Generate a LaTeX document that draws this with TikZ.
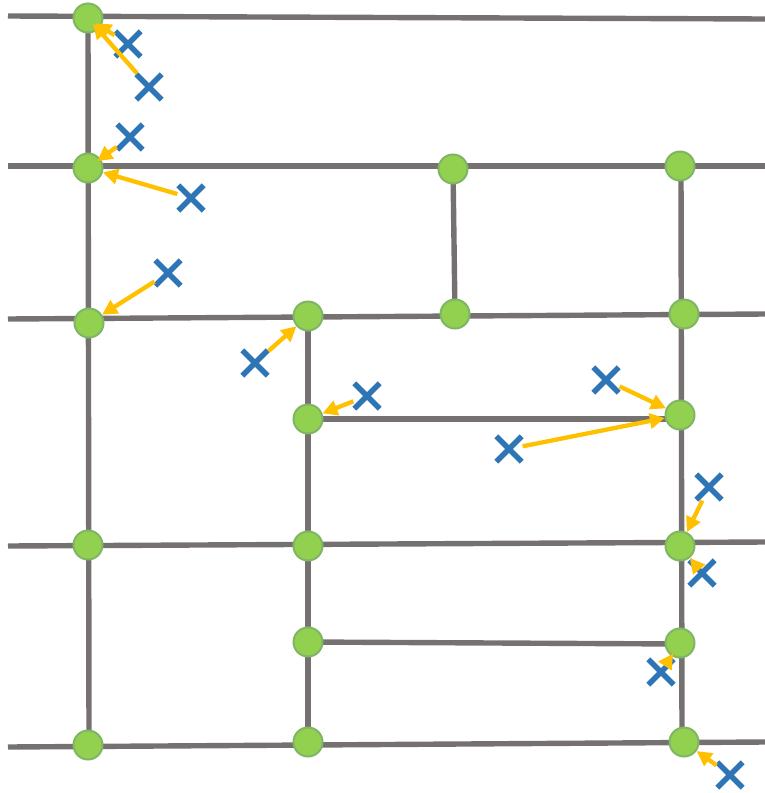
\documentclass[tikz,border=0pt]{standalone}
\usetikzlibrary{shapes.misc,arrows.meta}
\definecolor{gridgray}{HTML}{767171}
\definecolor{nodegreen}{HTML}{92D050}
\definecolor{nodeedge}{HTML}{7FB565}
\definecolor{crossblue}{HTML}{2E75B6}
\definecolor{arrowyellow}{HTML}{FFC000}
\tikzset{
  road/.style={draw=gridgray,line width=5.4pt},
  junction/.style={circle,fill=nodegreen,draw=nodeedge,line width=2pt,minimum size=29pt,inner sep=0pt},
  sample/.style={cross out,draw=crossblue,line width=5.4pt,minimum size=20pt,inner sep=0pt},
  snap/.style={draw=arrowyellow,line width=4.3pt,-{Triangle[length=15pt,width=15pt]},shorten <=1pt,shorten >=0pt}
}
\begin{document}
\begin{tikzpicture}[x=1pt,y=-1pt]
\useasboundingbox (0,0) rectangle (765,793);
% junction positions
\coordinate (p1) at (88,18);
\coordinate (p2) at (88,168);
\coordinate (p3) at (89,323);
\coordinate (p4) at (88,545);
\coordinate (p5) at (88,745);
\coordinate (p6) at (453,169);
\coordinate (p7) at (680,166);
\coordinate (p8) at (308,316);
\coordinate (p9) at (455,314);
\coordinate (p10) at (684,314);
\coordinate (p11) at (308,419);
\coordinate (p12) at (680,415);
\coordinate (p13) at (308,546);
\coordinate (p14) at (680,546);
\coordinate (p15) at (308,642);
\coordinate (p16) at (680,643);
\coordinate (p17) at (308,742);
\coordinate (p18) at (684,742);
% road ends
\coordinate (l1) at (8,16);   \coordinate (r1) at (765,19);
\coordinate (l2) at (8,166);  \coordinate (r2) at (765,166);
\coordinate (l3) at (8,319);  \coordinate (r3) at (765,314);
\coordinate (l4) at (8,546);  \coordinate (r4) at (765,542);
\coordinate (l5) at (8,747);  \coordinate (r5) at (765,742);
\coordinate (vt) at (681,166); \coordinate (vb) at (682,742);
\coordinate (h1) at (681,419); \coordinate (h2) at (681,644);
\coordinate (va) at (88,18);   \coordinate (vz) at (89,745);
% roads
\draw[road] (l1) -- (r1);
\draw[road] (l2) -- (r2);
\draw[road] (l3) -- (r3);
\draw[road] (l4) -- (r4);
\draw[road] (l5) -- (r5);
\draw[road] (p11) -- (h1);
\draw[road] (p15) -- (h2);
\draw[road] (va) -- (vz);
\draw[road] (p8) -- (p17);
\draw[road] (p6) -- (p9);
\draw[road] (vt) -- (vb);
% junction nodes
\foreach \i in {1,...,18} \node[junction] (n\i) at (p\i) {};
% samples
\node[sample] (x1) at (128,44) {};
\node[sample] (x2) at (149,87) {};
\node[sample] (x3) at (130,137) {};
\node[sample] (x4) at (191,198) {};
\node[sample] (x5) at (168,273) {};
\node[sample] (x6) at (255,363) {};
\node[sample] (x7) at (367,396) {};
\node[sample] (x8) at (606,380) {};
\node[sample] (x9) at (509,449) {};
\node[sample] (x10) at (709,487) {};
\node[sample] (x11) at (702,573) {};
\node[sample] (x12) at (661,672) {};
\node[sample] (x13) at (730,775) {};
% snapping arrows
\draw[snap,shorten >=-6pt] (x1) -- (n1);
\draw[snap,shorten >=-8pt] (x2) -- (n1);
\draw[snap,shorten >=-4pt] (x3) -- (n2);
\draw[snap] (x4) -- (n2);
\draw[snap] (x5) -- (n3);
\draw[snap] (x6) -- (n8);
\draw[snap] (x7) -- (n11);
\draw[snap] (x8) -- (n12);
\draw[snap] (x9) -- (n12);
\draw[snap] (x10) -- (n14);
\draw[snap] (x11) -- (n14);
\draw[snap,shorten >=-3pt] (x12) -- (n16);
\draw[snap] (x13) -- (n18);
\end{tikzpicture}
\end{document}
